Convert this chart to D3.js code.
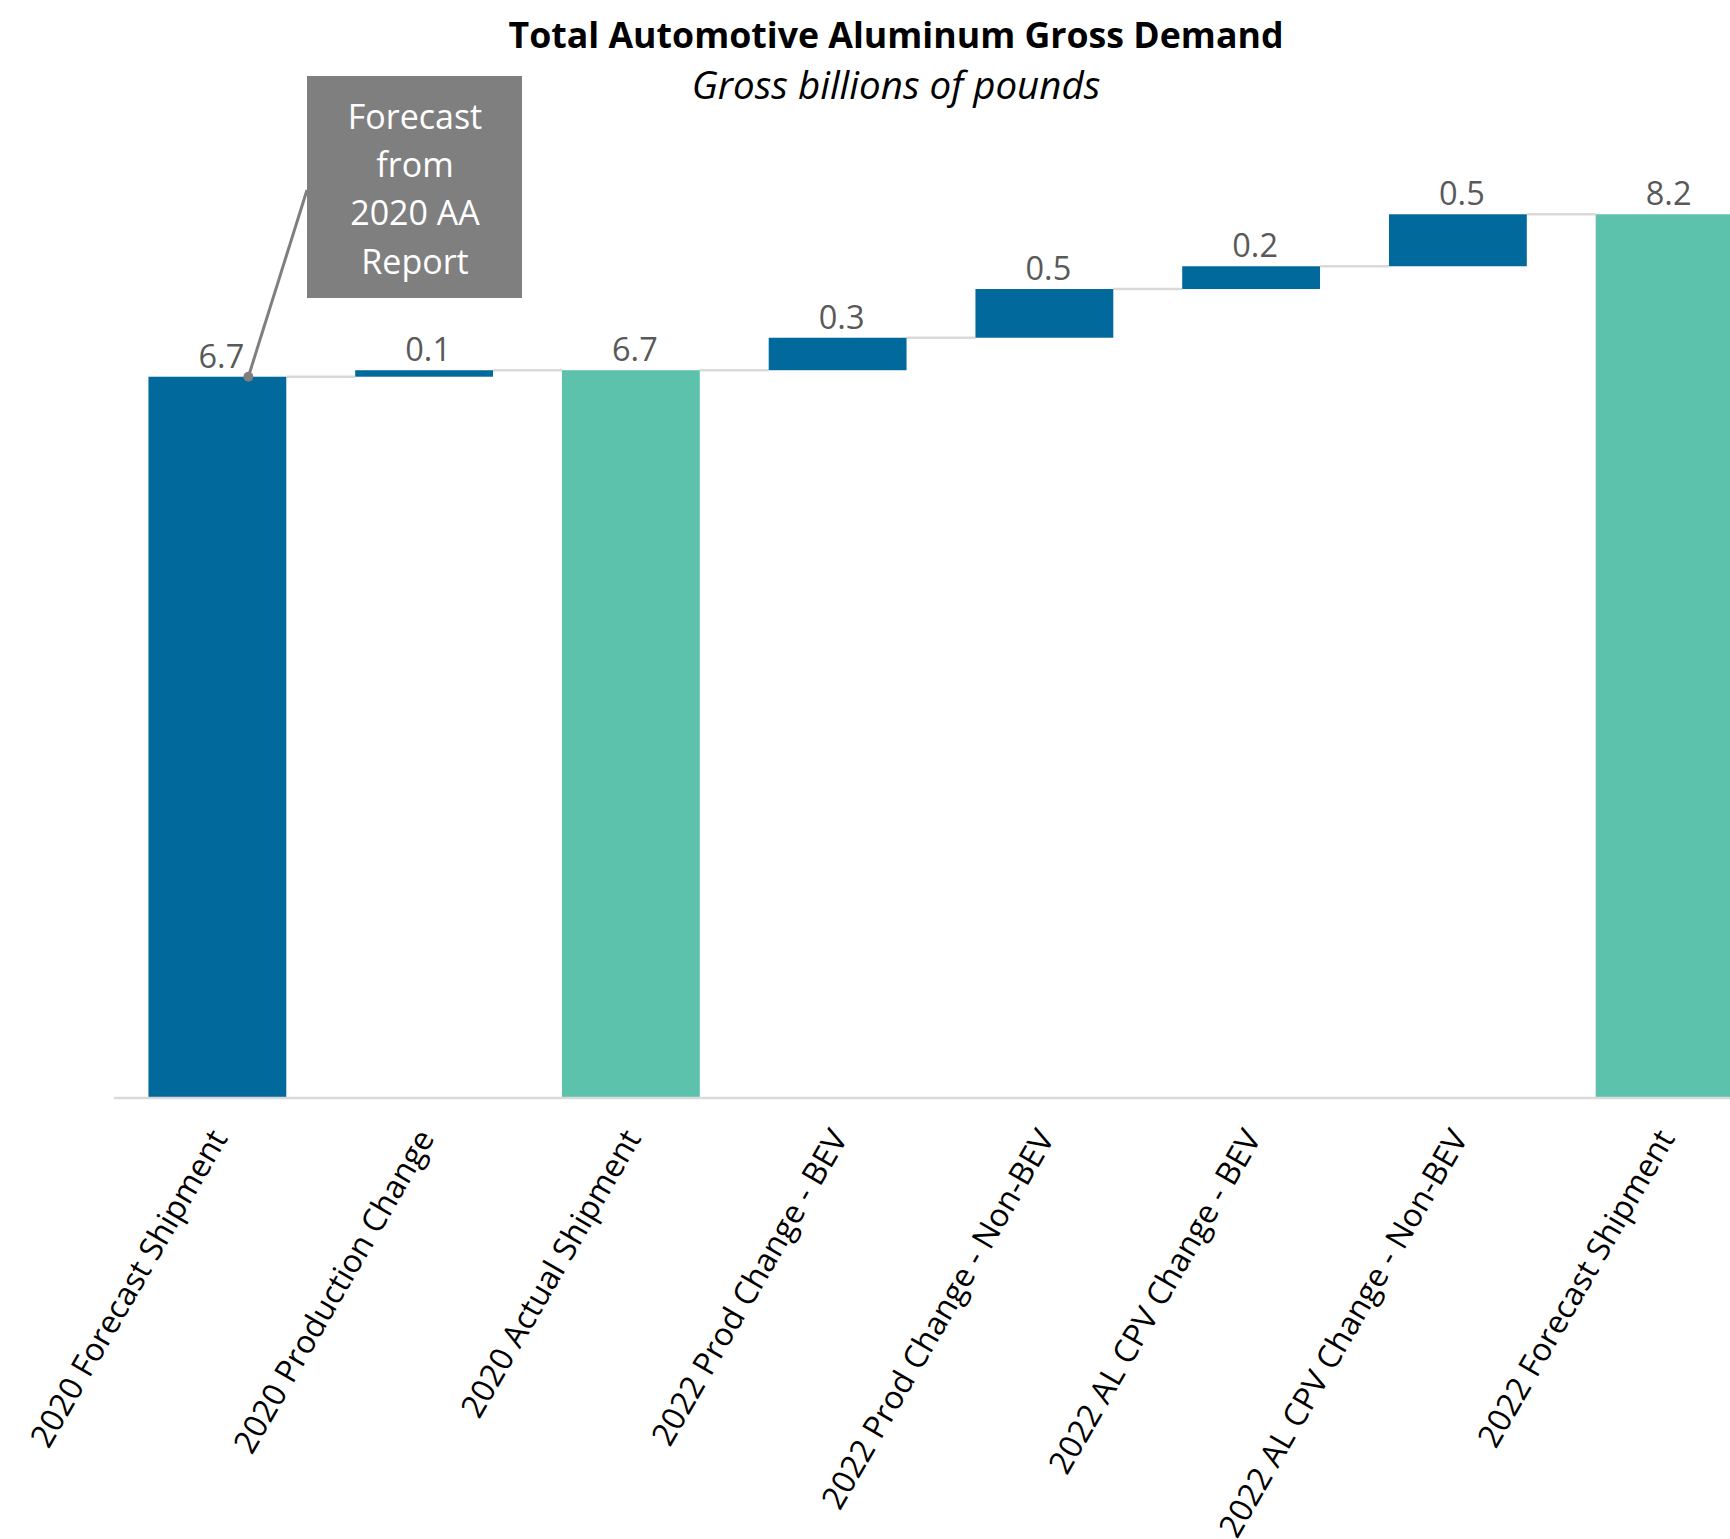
<!DOCTYPE html>
<html>
<head>
<meta charset="utf-8">
<script src="https://cdn.jsdelivr.net/npm/d3@7"></script>
<style>
  html, body { margin: 0; padding: 0; background: #ffffff; }
  svg { display: block; }
  text { font-family: "Open Sans", Lato, sans-serif; }
</style>
</head>
<body>
<svg id="chart" width="1730" height="1539"></svg>
<script>
// Waterfall data: running totals and the changes between them (billions of pounds)
const categories = [
  "2020 Forecast Shipment",
  "2020 Production Change",
  "2020 Actual Shipment",
  "2022 Prod Change - BEV",
  "2022 Prod Change - Non-BEV",
  "2022 AL CPV Change - BEV",
  "2022 AL CPV Change - Non-BEV",
  "2022 Forecast Shipment"
];
const values = [6.66, 0.06, 6.72, 0.30, 0.45, 0.21, 0.48, 8.16];
const kinds = ["start", "delta", "total", "delta", "delta", "delta", "delta", "total"];
const yDomain = [0, 9];

const titleText = "Total Automotive Aluminum Gross Demand";
const subtitleText = "Gross billions of pounds";
const calloutLines = ["Forecast", "from", "2020 AA", "Report"];

const colorByKind = { start: "#02699c", delta: "#02699c", total: "#5cc2ab" };
const fmt = d3.format(".1f");

const svg = d3.select("#chart");
const W = 1730;

// Stack the deltas on top of the running level
let running = 0;
const bars = categories.map((c, i) => {
  let base, top;
  if (kinds[i] === "delta") {
    base = running;
    top = running + values[i];
  } else {
    base = 0;
    top = values[i];
  }
  running = top;
  return { cat: c, value: values[i], kind: kinds[i], base, top };
});

const x = d3.scaleBand()
  .domain(categories)
  .range([114, 1768])
  .paddingInner(1 / 3)
  .paddingOuter(1 / 6);

const y = d3.scaleLinear()
  .domain(yDomain)
  .range([1098, 1098 - 9 * 108.3]);

// Title block
svg.append("text")
  .attr("x", 896).attr("y", 48)
  .attr("text-anchor", "middle")
  .style("font-weight", "bold")
  .style("font-size", "35.7px")
  .attr("fill", "#000")
  .text(titleText);

svg.append("text")
  .attr("x", 896).attr("y", 99)
  .attr("text-anchor", "middle")
  .style("font-style", "italic")
  .style("font-size", "38.5px")
  .attr("fill", "#000")
  .text(subtitleText);

// Connectors between consecutive bars at the running level
const conn = svg.append("g");
bars.slice(0, -1).forEach((b, i) => {
  conn.append("line")
    .attr("x1", x(b.cat) + x.bandwidth())
    .attr("x2", x(categories[i + 1]))
    .attr("y1", y(b.top))
    .attr("y2", y(b.top))
    .attr("stroke", "#d9d9d9")
    .attr("stroke-width", 2.5);
});

// Bars
svg.append("g").selectAll("rect")
  .data(bars)
  .join("rect")
  .attr("x", d => x(d.cat))
  .attr("width", x.bandwidth())
  .attr("y", d => y(d.top))
  .attr("height", d => y(d.base) - y(d.top))
  .attr("fill", d => colorByKind[d.kind]);

// Baseline
svg.append("line")
  .attr("x1", 114).attr("x2", W)
  .attr("y1", y(0)).attr("y2", y(0))
  .attr("stroke", "#d9d9d9")
  .attr("stroke-width", 2.5);

// Value labels
svg.append("g").selectAll("text")
  .data(bars)
  .join("text")
  .attr("x", d => x(d.cat) + x.bandwidth() / 2 + 4)
  .attr("y", d => y(d.top) - 9)
  .attr("text-anchor", "middle")
  .style("font-size", "32.5px")
  .attr("fill", "#595959")
  .text(d => fmt(d.value));

// Category axis with rotated labels
const axis = svg.append("g")
  .attr("transform", `translate(0,${y(0)})`)
  .call(d3.axisBottom(x).tickSize(0).tickPadding(0));
axis.select(".domain").remove();
axis.selectAll(".tick text")
  .attr("text-anchor", "end")
  .attr("fill", "#000")
  .style("font-size", "32px")
  .style("font-family", "'Open Sans', Lato, sans-serif")
  .attr("dy", 0)
  .attr("y", 0)
  .attr("transform", "translate(11,40) rotate(-60)");

// Callout pointing at the top of the first bar
const first = bars[0];
const anchorX = x(first.cat) + x.bandwidth() * 0.725;
const anchorY = y(first.top);
svg.append("line")
  .attr("x1", 307).attr("y1", 190)
  .attr("x2", anchorX).attr("y2", anchorY)
  .attr("stroke", "#7f7f7f")
  .attr("stroke-width", 3);
svg.append("circle")
  .attr("cx", anchorX).attr("cy", anchorY)
  .attr("r", 5)
  .attr("fill", "#7f7f7f");
svg.append("rect")
  .attr("x", 307).attr("y", 76)
  .attr("width", 215).attr("height", 222)
  .attr("fill", "#7f7f7f");
svg.append("g").selectAll("text")
  .data(calloutLines)
  .join("text")
  .attr("x", 415)
  .attr("y", (d, i) => 129 + i * 48.2)
  .attr("text-anchor", "middle")
  .style("font-size", "34px")
  .attr("fill", "#ffffff")
  .text(d => d);
</script>
</body>
</html>
